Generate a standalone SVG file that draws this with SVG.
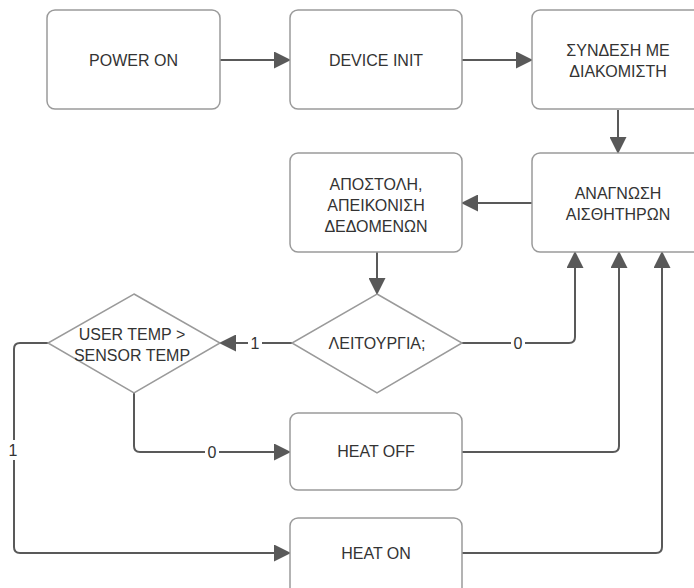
<svg xmlns="http://www.w3.org/2000/svg" width="694" height="588" viewBox="0 0 694 588">
<defs>
<style>
.box{fill:#fff;stroke:#9a9a9a;stroke-width:1.5}
.t{font-family:"Liberation Sans",Arial,sans-serif;font-size:16px;fill:#333;text-anchor:middle}
.lbl{font-family:"Liberation Sans",Arial,sans-serif;font-size:16px;fill:#333;text-anchor:middle}
.c{fill:none;stroke:#595959;stroke-width:2;marker-end:url(#ah)}
.bg{fill:#fff}
</style>
<marker id="ah" markerUnits="userSpaceOnUse" markerWidth="17" markerHeight="17" viewBox="0 0 17 17" refX="16" refY="8.5" orient="auto">
<path d="M0,0 L17,8.5 L0,17 Z" fill="#595959"/>
</marker>
</defs>
<rect width="694" height="588" fill="#fff"/>
<g id="connectors">
<path class="c" d="M220,60 H290"/>
<path class="c" d="M462,60 H532"/>
<path class="c" d="M618,110 V153"/>
<path class="c" d="M532,203 H462"/>
<path class="c" d="M377,252 V294"/>
<path class="c" d="M292,343 H220"/>
<path class="c" d="M462,343 H569 Q575,343 575,337 V252"/>
<path class="c" d="M134,393 V446 Q134,452 140,452 H290"/>
<path class="c" d="M48,343 H20 Q14,343 14,349 V547 Q14,553 20,553 H290"/>
<path class="c" d="M462,452 H613 Q619,452 619,446 V252"/>
<path class="c" d="M462,553 H656 Q662,553 662,547 V252"/>
<rect class="bg" x="248" y="333" width="14" height="20"/>
<text class="lbl" x="255" y="349">1</text>
<rect class="bg" x="511" y="333" width="14" height="20"/>
<text class="lbl" x="518" y="349">0</text>
<rect class="bg" x="205" y="442" width="14" height="20"/>
<text class="lbl" x="212" y="458">0</text>
<rect class="bg" x="6" y="440" width="14" height="20"/>
<text class="lbl" x="13" y="456">1</text>
</g>
<g id="power-on">
<rect class="box" x="47" y="10" width="173" height="99" rx="8"/>
<text class="t" x="133.5" y="66">POWER ON</text>
</g>
<g id="device-init">
<rect class="box" x="290" y="10" width="172" height="99" rx="8"/>
<text class="t" x="376" y="66">DEVICE INIT</text>
</g>
<g id="syndesi">
<rect class="box" x="532" y="10" width="172" height="99" rx="8"/>
<text class="t" x="618" y="56">ΣΥΝΔΕΣΗ ΜΕ</text>
<text class="t" x="618" y="77">ΔΙΑΚΟΜΙΣΤΗ</text>
</g>
<g id="anagnosi">
<rect class="box" x="532" y="153" width="172" height="99" rx="8"/>
<text class="t" x="618" y="199">ΑΝΑΓΝΩΣΗ</text>
<text class="t" x="618" y="220">ΑΙΣΘΗΤΗΡΩΝ</text>
</g>
<g id="apostoli">
<rect class="box" x="290" y="153" width="172" height="99" rx="8"/>
<text class="t" x="376" y="190">ΑΠΟΣΤΟΛΗ,</text>
<text class="t" x="376" y="211">ΑΠΕΙΚΟΝΙΣΗ</text>
<text class="t" x="376" y="232">ΔΕΔΟΜΕΝΩΝ</text>
</g>
<g id="leitourgia">
<path class="box" d="M377,294 L462,343 L377,393 L292,343 Z"/>
<text class="t" x="377" y="349">ΛΕΙΤΟΥΡΓΙΑ;</text>
</g>
<g id="user-temp">
<path class="box" d="M134,294 L220,343 L134,393 L48,343 Z"/>
<text class="t" x="132" y="340">USER TEMP &gt;</text>
<text class="t" x="132" y="361">SENSOR TEMP</text>
</g>
<g id="heat-off">
<rect class="box" x="290" y="413" width="172" height="77" rx="8"/>
<text class="t" x="376" y="457">HEAT OFF</text>
</g>
<g id="heat-on">
<rect class="box" x="290" y="518" width="172" height="80" rx="8"/>
<text class="t" x="376" y="559">HEAT ON</text>
</g>
</svg>
